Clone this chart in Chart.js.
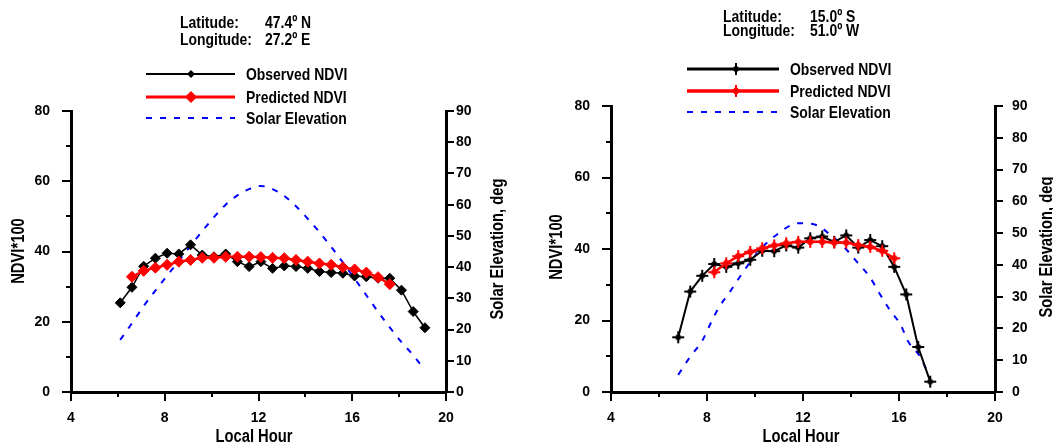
<!DOCTYPE html>
<html><head><meta charset="utf-8">
<script src="https://cdn.jsdelivr.net/npm/chart.js@4/dist/chart.umd.min.js"></script>
<style>
body{margin:0;background:#fff;width:1053px;height:448px;overflow:hidden;position:relative}
canvas{position:absolute;top:0}
#c1{left:0}#c2{left:527px}
</style></head><body>
<canvas id="c1" width="527" height="448"></canvas>
<canvas id="c2" width="526" height="448"></canvas>
<script>
// ---------- DATA ----------
const seriesNames = ['Observed NDVI', 'Predicted NDVI', 'Solar Elevation'];
const xTicksMajor = [4, 8, 12, 16, 20];
const ndviTickLabels = [0, 20, 40, 60, 80];

// Left site
const leftTitle = ['Latitude:', '47.4º N', 'Longitude:', '27.2º E'];
const leftObsHours = [6.1,6.6,7.1,7.6,8.1,8.6,9.1,9.6,10.1,10.6,11.1,11.6,12.1,12.6,13.1,13.6,14.1,14.6,15.1,15.6,16.1,16.6,17.1,17.6,18.1,18.6,19.1];
const leftObsNdvi  = [25.4,29.8,35.8,38.1,39.5,39.3,41.9,39.0,38.5,39.3,37.1,35.7,37.1,35.2,35.9,35.7,35.2,34.3,34.0,33.8,33.0,32.8,32.4,32.4,29.0,22.9,18.3];
const leftPredHours = [6.6,7.1,7.6,8.1,8.6,9.1,9.6,10.1,10.6,11.1,11.6,12.1,12.6,13.1,13.6,14.1,14.6,15.1,15.6,16.1,16.6,17.1,17.6];
const leftPredNdvi  = [32.8,34.5,35.4,36.2,37.1,37.6,38.2,38.2,38.5,38.5,38.5,38.4,38.2,38.1,37.6,37.1,36.6,36.2,35.5,34.9,34.0,32.7,30.7];
const leftSunHours = [6.1,6.6,7.1,7.6,8.1,8.6,9.1,9.6,10.1,10.6,11.1,11.6,12.1,12.6,13.1,13.6,14.1,14.6,15.1,15.6,16.1,16.6,17.1,17.6,18.1,18.6,19.0];
const leftSunElev  = [16.7,22,27.5,32.5,37.2,42,46.8,51.5,56,60,63,65,66,65,62.8,59.5,55.5,51.2,46.5,41.5,36.3,31,25.7,20.7,16,11.8,8];

// Right site
const rightTitle = ['Latitude:', '15.0º S', 'Longitude:', '51.0º W'];
const rightObsHours = [6.8,7.3,7.8,8.3,8.8,9.3,9.8,10.3,10.8,11.3,11.8,12.3,12.8,13.3,13.8,14.3,14.8,15.3,15.8,16.3,16.8,17.3];
const rightObsNdvi  = [15.3,28.1,32.5,35.8,35.0,36.0,37.0,39.5,39.4,41.0,40.4,43.0,43.5,42.0,43.8,40.4,42.5,40.8,35.0,27.3,12.6,2.9];
const rightPredHours = [8.3,8.8,9.3,9.8,10.3,10.8,11.3,11.8,12.3,12.8,13.3,13.8,14.3,14.8,15.3,15.8];
const rightPredNdvi  = [33.5,36.0,38.0,39.2,40.2,41.0,41.6,42.0,42.0,42.0,41.8,41.8,41.1,40.6,39.5,37.4];
const rightSunHours = [6.8,7.3,7.8,8.12,8.47,8.96,9.42,9.86,10.35,10.97,11.5,11.8,12.4,12.8,13.13,13.7,14.24,14.79,15.18,15.6,16.07,16.39,16.88,17.18];
const rightSunElev  = [5.4,11.1,16.1,21.1,26.3,31.6,36.8,41.5,45.9,49.9,52.5,53.1,52.9,51.5,49.5,45.7,41,36.1,31.1,26,21.1,15.8,11.1,6.4];

// ---------- STYLE ----------
const FONT = "'Liberation Sans',Arial,sans-serif";
const NARROW = 0.82;
const pts = (xs, ys) => xs.map((x, i) => ({x, y: ys[i]}));

function crossMarker(color, d, arm) {
  const s = (arm + 2) * 2, c = document.createElement('canvas');
  c.width = s; c.height = s;
  const g = c.getContext('2d'), m = s / 2;
  g.fillStyle = color; g.strokeStyle = color; g.lineWidth = 2;
  g.beginPath(); g.moveTo(m - arm, m); g.lineTo(m + arm, m); g.moveTo(m, m - arm); g.lineTo(m, m + arm); g.stroke();
  g.beginPath(); g.moveTo(m - d, m); g.lineTo(m, m - d); g.lineTo(m + d, m); g.lineTo(m, m + d); g.closePath(); g.fill();
  return c;
}

function narrowText(ctx, txt, x, y, rot) {
  ctx.save(); ctx.translate(x, y); if (rot) ctx.rotate(rot); ctx.scale(NARROW, 1);
  ctx.fillText(txt, 0, 0); ctx.restore();
}

const textPlugin = {
  id: 'texts',
  afterDraw(chart) {
    const o = chart.options.plugins.texts; if (!o) return;
    const ctx = chart.ctx; ctx.save();
    ctx.fillStyle = '#000';
    // ticks
    ctx.strokeStyle = '#000'; ctx.lineWidth = 2;
    ['x', 'y', 'y2'].forEach(id => {
      const s = chart.scales[id];
      s.ticks.forEach(t => {
        const major = t.label !== '' && t.label !== undefined;
        const len = id === 'y2' ? 8 : (major ? 9 : 5);
        const p = Math.round(s.getPixelForValue(t.value));
        ctx.beginPath();
        if (id === 'x') { ctx.moveTo(p, s.top); ctx.lineTo(p, s.top + len); }
        else if (id === 'y') { ctx.moveTo(s.right, p); ctx.lineTo(s.right - len, p); }
        else { ctx.moveTo(s.left, p); ctx.lineTo(s.left + len, p); }
        ctx.stroke();
      });
    });
    // titles
    ctx.font = 'bold 17px ' + FONT; ctx.textBaseline = 'alphabetic'; ctx.textAlign = 'left';
    const T = o.title;
    narrowText(ctx, T.text[0], T.x1, T.y1); narrowText(ctx, T.text[1], T.x2, T.y1);
    narrowText(ctx, T.text[2], T.x1, T.y2); narrowText(ctx, T.text[3], T.x2, T.y2);
    // legend
    const L = o.legend;
    chart.data.datasets.forEach((ds, i) => {
      const y = L.ys[i];
      ctx.save();
      ctx.strokeStyle = ds.borderColor; ctx.lineWidth = L.widths[i];
      ctx.setLineDash(ds.borderDash || []);
      ctx.beginPath(); ctx.moveTo(L.x1, y); ctx.lineTo(L.x2, y); ctx.stroke();
      ctx.restore();
      if (ds.pointRadius > 0) {
        if (typeof ds.pointStyle === 'object') {
          const c = ds.pointStyle; ctx.drawImage(c, L.xm - c.width / 2, y - c.height / 2);
        } else {
          const r = L.radii[i];
          ctx.fillStyle = ds.pointBackgroundColor;
          ctx.beginPath(); ctx.moveTo(L.xm - r, y); ctx.lineTo(L.xm, y - r); ctx.lineTo(L.xm + r, y); ctx.lineTo(L.xm, y + r); ctx.closePath(); ctx.fill();
        }
      }
      ctx.fillStyle = '#000'; ctx.textBaseline = 'middle';
      narrowText(ctx, ds.label, L.xt, y + 1);
    });
    // axis titles
    const A = o.axes;
    ctx.font = 'bold 18px ' + FONT;
    ctx.textAlign = 'center'; ctx.textBaseline = 'middle';
    narrowText(ctx, 'Local Hour', A.xLabel[0], A.xLabel[1]);
    narrowText(ctx, 'NDVI*100', A.yLabel[0], A.yLabel[1], -Math.PI / 2);
    narrowText(ctx, 'Solar Elevation, deg', A.y2Label[0], A.y2Label[1], -Math.PI / 2);
    ctx.restore();
  }
};

function makeChart(canvasId, d, geo) {
  const tickFont = {family: FONT, size: 14, weight: 'bold'};
  return new Chart(document.getElementById(canvasId), {
    type: 'line',
    data: {
      datasets: [
        {label: seriesNames[0], data: pts(d.obsH, d.obsV), yAxisID: 'y', borderColor: '#000', backgroundColor: '#000',
         pointBackgroundColor: '#000', pointBorderColor: '#000', borderWidth: d.obsW, pointStyle: d.obsStyle, pointRadius: d.obsR, pointBorderWidth: 1, order: 2},
        {label: seriesNames[1], data: pts(d.predH, d.predV), yAxisID: 'y', borderColor: '#ff0000', backgroundColor: '#ff0000',
         pointBackgroundColor: '#ff0000', pointBorderColor: '#ff0000', borderWidth: d.predW, pointStyle: d.predStyle, pointRadius: d.predR, pointBorderWidth: 1, order: 1},
        {label: seriesNames[2], data: pts(d.sunH, d.sunV), yAxisID: 'y2', borderColor: '#0000ff', backgroundColor: '#0000ff',
         borderWidth: 2, borderDash: [6, 8], pointRadius: 0, order: 3, cubicInterpolationMode: 'monotone'}
      ]
    },
    options: {
      responsive: false, animation: false, devicePixelRatio: 1, events: [],
      layout: {padding: {top: geo.top, left: 0, right: 0, bottom: 0}},
      plugins: {legend: {display: false}, tooltip: {enabled: false}, texts: geo.texts},
      scales: {
        x: {type: 'linear', min: 4, max: 20, position: 'bottom',
            afterFit: s => { s.height = 448 - geo.bottom; },
            afterBuildTicks: s => { s.ticks = [4,6,8,10,12,14,16,18,20].map(v => ({value: v})); },
            ticks: {font: tickFont, color: '#000', padding: 18, maxRotation: 0, autoSkip: false,
                    callback: v => xTicksMajor.includes(v) ? String(v) : ''},
            grid: {display: false, drawTicks: false}, border: {display: true, color: '#000', width: 3}},
        y: {type: 'linear', min: 0, max: 80, position: 'left',
            afterFit: s => { s.width = geo.left; },
            ticks: {stepSize: 10, font: tickFont, color: '#000', padding: 21, autoSkip: false,
                    callback: v => ndviTickLabels.includes(v) ? String(v) : ''},
            grid: {display: false, drawTicks: false}, border: {display: true, color: '#000', width: 3}},
        y2: {type: 'linear', min: 0, max: 90, position: 'right',
            afterFit: s => { s.width = geo.rightW; },
            ticks: {stepSize: 10, font: tickFont, color: '#000', padding: geo.y2pad, autoSkip: false},
            grid: {display: false, drawTicks: false}, border: {display: true, color: '#000', width: 3}}
      }
    },
    plugins: [textPlugin]
  });
}

makeChart('c1', {
  obsH: leftObsHours, obsV: leftObsNdvi, predH: leftPredHours, predV: leftPredNdvi, sunH: leftSunHours, sunV: leftSunElev,
  obsW: 1.5, predW: 2.5, obsStyle: 'rectRot', predStyle: 'rectRot', obsR: 5, predR: 5.5
}, {
  top: 111, bottom: 392, left: 71, rightW: 527 - 446, y2pad: 10,
  texts: {
    title: {text: leftTitle, x1: 180, x2: 265, y1: 28, y2: 45},
    legend: {x1: 146, x2: 235, xm: 191, xt: 246, ys: [74, 97, 118], widths: [2, 3, 2], radii: [4, 6]},
    axes: {xLabel: [254, 437], yLabel: [19, 251], y2Label: [498, 249]}
  }
});

const blackCross = crossMarker('#000', 4, 6);
const redCross = crossMarker('#ff0000', 4.5, 6);
makeChart('c2', {
  obsH: rightObsHours, obsV: rightObsNdvi, predH: rightPredHours, predV: rightPredNdvi, sunH: rightSunHours, sunV: rightSunElev,
  obsW: 2, predW: 2.5, obsStyle: blackCross, predStyle: redCross, obsR: 6, predR: 6
}, {
  top: 106, bottom: 392, left: 84, rightW: 526 - 468, y2pad: 17,
  texts: {
    title: {text: rightTitle, x1: 196, x2: 283, y1: 22, y2: 36},
    legend: {x1: 160, x2: 252, xm: 209, xt: 263, ys: [69, 91, 112], widths: [3, 3.5, 2], radii: [4, 5]},
    axes: {xLabel: [274, 437], yLabel: [30, 247], y2Label: [520, 247]}
  }
});
</script>
</body></html>
